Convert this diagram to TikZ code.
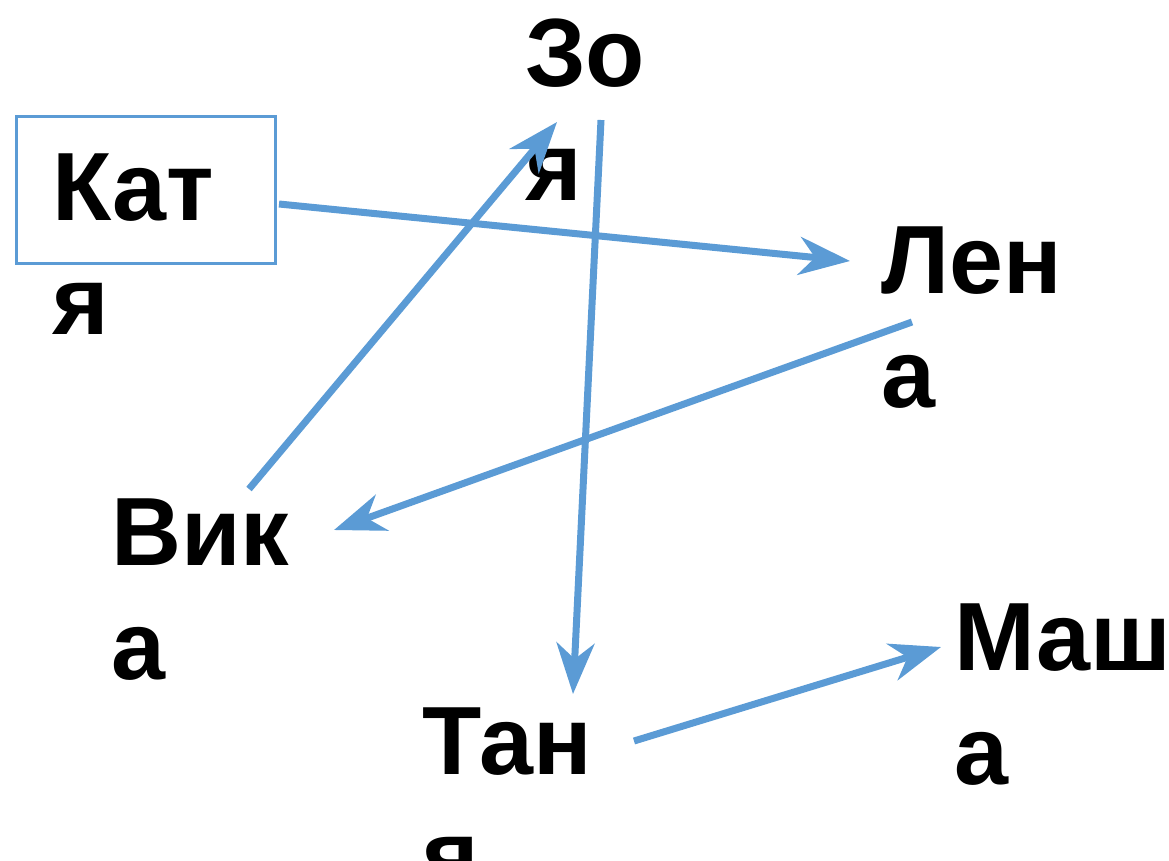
\documentclass[tikz,border=0pt]{standalone}
\usepackage{fontspec}
\setmainfont{Liberation Sans}
\usetikzlibrary{arrows.meta}
\definecolor{arrblue}{HTML}{5B9BD5}
\tikzset{
  girl/.style={anchor=base west, inner sep=0pt, align=left, font=\fontsize{97}{114}\selectfont\bfseries},
  conn/.style={draw=arrblue, line width=7pt, -{Stealth[length=51pt, width=38pt, inset=16pt]}},
  boxframe/.style={draw=arrblue, line width=3pt, inner sep=0pt}
}
\begin{document}
\begin{tikzpicture}[x=1pt,y=-1pt]
\useasboundingbox (0,0) rectangle (1169,860);
\node[boxframe, minimum width=259pt, minimum height=147pt, anchor=north west] (katyabox) at (15,115) {};
\node[girl] (katya) at (52,334) {Кат\\я};
\node[girl] (zoya) at (525,200) {Зо\\я};
\node[girl] (lena) at (881,407) {Лен\\а};
\node[girl] (vika) at (111,679) {Вик\\а};
\node[girl] (tanya) at (422,888) {Тан\\я};
\node[girl] (masha) at (954,784) {Маш\\а};
\coordinate (k1) at (279,204);
\coordinate (l1) at (850,261);
\coordinate (l2) at (912,322);
\coordinate (v1) at (334,530);
\coordinate (v2) at (249,489);
\coordinate (z1) at (557,122);
\coordinate (z2) at (601,120);
\coordinate (t1) at (573,694);
\coordinate (t2) at (634,741);
\coordinate (m1) at (941,647);
\draw[conn] (k1) -- (l1);
\draw[conn] (l2) -- (v1);
\draw[conn] (v2) -- (z1);
\draw[conn] (z2) -- (t1);
\draw[conn] (t2) -- (m1);
\end{tikzpicture}
\end{document}
